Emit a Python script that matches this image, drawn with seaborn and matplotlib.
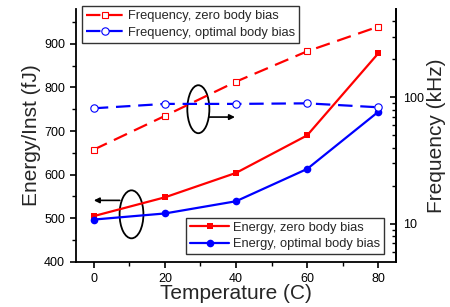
import numpy as np
import pandas as pd
import matplotlib
matplotlib.use("Agg")
import matplotlib.pyplot as plt
from matplotlib.patches import Ellipse
from matplotlib.ticker import MultipleLocator, FixedLocator, NullFormatter, FuncFormatter
import seaborn as sns

# data
temps = [0, 20, 40, 60, 80]
energy_zero = [505, 548, 604, 690, 878]
energy_opt = [497, 511, 539, 613, 744]
freq_zero = [38.6, 71.3, 133, 231, 362]
freq_opt = [81.9, 88.7, 88.7, 89.6, 83.4]

sns.set_theme(style="ticks")
plt.rcParams["font.family"] = ["Liberation Sans", "DejaVu Sans"]

fig = plt.figure(figsize=(4.5, 3.07), dpi=100)
ax = fig.add_axes([0.169, 0.147, 0.711, 0.824])
ax2 = ax.twinx()

df = pd.DataFrame({"T": temps, "ez": energy_zero, "eo": energy_opt,
                   "fz": freq_zero, "fo": freq_opt})

dash = (0, (6.5, 3.5))
sns.lineplot(data=df, x="T", y="ez", ax=ax, color="red", marker="s",
             markersize=4.5, linewidth=1.6, markeredgewidth=0,
             label="Energy, zero body bias")
sns.lineplot(data=df, x="T", y="eo", ax=ax, color="blue", marker="o",
             markersize=5.5, linewidth=1.6, markeredgewidth=0,
             label="Energy, optimal body bias")
sns.lineplot(data=df, x="T", y="fz", ax=ax2, color="red", marker="s",
             markersize=4.8, linewidth=1.6, linestyle=dash,
             markerfacecolor="white", markeredgecolor="red", markeredgewidth=0.8,
             label="Frequency, zero body bias")
sns.lineplot(data=df, x="T", y="fo", ax=ax2, color="blue", marker="o",
             markersize=5.3, linewidth=1.6, linestyle=dash,
             markerfacecolor="white", markeredgecolor="blue", markeredgewidth=0.8,
             label="Frequency, optimal body bias")

ax.set_xlim(-5, 85)
ax.set_ylim(400, 980)
ax2.set_yscale("log")
ax2.set_ylim(5, 500)

ax.xaxis.set_major_locator(MultipleLocator(20))
ax.xaxis.set_minor_locator(MultipleLocator(10))
ax.yaxis.set_major_locator(MultipleLocator(100))
ax.yaxis.set_minor_locator(MultipleLocator(50))
ax2.yaxis.set_major_locator(FixedLocator([10, 100]))
ax2.yaxis.set_major_formatter(FuncFormatter(lambda v, p: f"{v:g}"))
ax2.yaxis.set_minor_locator(FixedLocator([6, 7, 8, 9, 20, 30, 40, 50, 60, 70, 80, 90,
                                           200, 300, 400]))
ax2.yaxis.set_minor_formatter(NullFormatter())

for a in (ax, ax2):
    a.spines["top"].set_visible(False)
    for s in a.spines.values():
        s.set_linewidth(1.3)
        s.set_color("black")
ax.tick_params(which="major", length=4.5, width=1.2, labelsize=9, pad=3.5, colors="black")
ax.tick_params(which="minor", length=3, width=1.0, colors="black")
ax2.tick_params(which="major", direction="in", length=4.5, width=1.2, labelsize=9,
                pad=5, colors="black")
ax2.tick_params(which="minor", direction="in", length=3, width=1.0, colors="black")
ax2.spines["left"].set_visible(False)
ax2.spines["bottom"].set_visible(False)

ax.set_xlabel("Temperature (C)", fontsize=15, labelpad=-1)
ax.set_ylabel("Energy/Inst (fJ)", fontsize=15, labelpad=2)
ax2.set_ylabel("Frequency (kHz)", fontsize=15, labelpad=2)

# ellipses with arrows pointing to each axis
ax.add_patch(Ellipse((10.6, 509), 6.7, 110, fill=False, lw=1.3, ec="black"))
ax.annotate("", xy=(0, 541), xytext=(7.3, 541),
            arrowprops=dict(arrowstyle="-|>", color="black", lw=1.2,
                            mutation_scale=8, shrinkA=0, shrinkB=0))
ax.add_patch(Ellipse((29.4, 750), 6.2, 110, fill=False, lw=1.3, ec="black"))
ax.annotate("", xy=(39.7, 732), xytext=(32.4, 732),
            arrowprops=dict(arrowstyle="-|>", color="black", lw=1.2,
                            mutation_scale=8, shrinkA=0, shrinkB=0))

leg_kw = dict(fontsize=9.3, frameon=True, fancybox=False, edgecolor="black",
              handlelength=3, handletextpad=0.3, borderpad=0.3,
              labelspacing=0.35, borderaxespad=0.2)
l1 = ax.legend(loc="lower right", bbox_to_anchor=(0.97, 0.02), **leg_kw)
l2 = ax2.legend(loc="upper left", bbox_to_anchor=(0.01, 1.02), **leg_kw)
for l in (l1, l2):
    l.get_frame().set_linewidth(1.0)

fig.savefig("out.png", dpi=100)
